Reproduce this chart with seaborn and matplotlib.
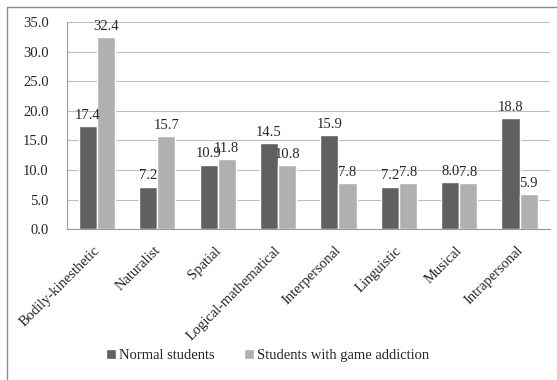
import matplotlib
matplotlib.use("Agg")
import matplotlib.pyplot as plt
import matplotlib.transforms as mtransforms
import seaborn as sns
import pandas as pd
import numpy as np
from matplotlib.patches import Rectangle

categories = ["Bodily-kinesthetic", "Naturalist", "Spatial", "Logical-mathematical",
              "Interpersonal", "Linguistic", "Musical", "Intrapersonal"]
normal = [17.4, 7.2, 10.9, 14.5, 15.9, 7.2, 8.0, 18.8]
addicted = [32.4, 15.7, 11.8, 10.8, 7.8, 7.8, 7.8, 5.9]
series = ["Normal students", "Students with game addiction"]
colors = ["#606060", "#b0b0b0"]
yticks = [0, 5, 10, 15, 20, 25, 30, 35]

df = pd.DataFrame({
    "category": categories * 2,
    "value": normal + addicted,
    "group": [series[0]] * len(categories) + [series[1]] * len(categories),
})

sns.set_style("white")
plt.rcParams["font.family"] = ["Liberation Serif", "DejaVu Serif"]

fig = plt.figure(figsize=(5.57, 3.80), dpi=100)
ax = fig.add_axes([0.120, 0.397, 0.867, 0.545])

sns.barplot(data=df, x="category", y="value", hue="group", palette=colors,
            width=0.6, saturation=1, ax=ax, legend=True)

# value labels above each bar
for container in ax.containers:
    ax.bar_label(container, fmt="%.1f", padding=3, fontsize=10.5)

ax.set_ylim(0, 35)
ax.set_yticks(yticks)
ax.set_yticklabels([f"{v:.1f}" for v in yticks], fontsize=10.5)
ax.set_xlim(-0.5, len(categories) - 0.5)
ax.set_xlabel("")
ax.set_ylabel("")
ax.yaxis.grid(True, color="#bdbdbd", linewidth=0.8)
ax.set_axisbelow(True)

# category names, rotated, plus boundary ticks on the x axis
ax.set_xticks(np.arange(len(categories)))
ax.set_xticklabels(categories, rotation=45, ha="right", va="center",
                   rotation_mode="anchor", fontsize=10.5)
ax.tick_params(axis="x", length=0, pad=14)
shift = mtransforms.ScaledTranslation(1 / 100, 0, fig.dpi_scale_trans)
for lbl in ax.get_xticklabels():
    lbl.set_transform(lbl.get_transform() + shift)
ax.set_xticks(np.arange(len(categories) + 1) - 0.5, minor=True)
ax.tick_params(axis="x", which="minor", length=4, color="#999999", direction="out")
ax.tick_params(axis="y", length=4, color="#999999", direction="out", pad=9)

for side in ["top", "right"]:
    ax.spines[side].set_visible(False)
for side in ["left", "bottom"]:
    ax.spines[side].set_color("#999999")
    ax.spines[side].set_linewidth(0.8)

handles, labels = ax.get_legend_handles_labels()
ax.legend(handles, labels, loc="center", bbox_to_anchor=(0.415, -0.61),
          ncol=2, frameon=False, fontsize=10.5, handlelength=0.7, handleheight=0.7,
          handletextpad=0.2, columnspacing=2.0, bbox_transform=ax.transAxes)

# outer chart border
fig.patches.append(Rectangle((7 / 557, -0.05), 1.2, 1 - 7 / 380 + 0.05,
                             transform=fig.transFigure, fill=False,
                             edgecolor="#8a8a8a", linewidth=1.0))

fig.savefig("out.png", dpi=100)
